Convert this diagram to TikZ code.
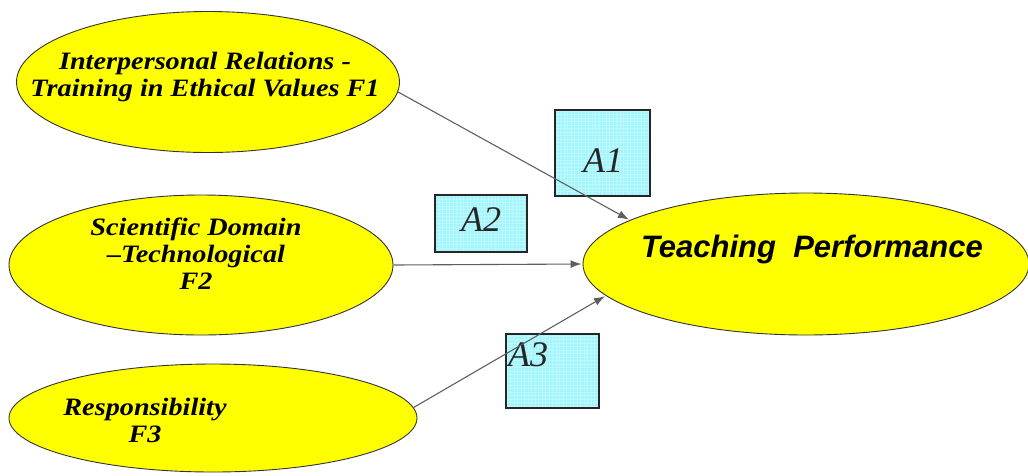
\documentclass[tikz,border=0pt]{standalone}
\usepackage{fontspec}
\setmainfont{Liberation Serif}
\setsansfont{Liberation Sans}
\newfontfamily\widefactor[FakeStretch=1.13]{Liberation Serif}
\usetikzlibrary{shapes.geometric,arrows.meta}
\definecolor{factorfill}{RGB}{255,255,0}
\definecolor{pathbox}{RGB}{160,246,252}
\definecolor{linkgray}{RGB}{95,95,95}
\tikzset{
  factor/.style={ellipse,draw=black!80,line width=0.9pt,fill=factorfill,inner sep=0pt},
  factortext/.style={font=\widefactor\fontsize{25}{27}\selectfont\bfseries\itshape,align=center,inner sep=0pt},
  coefbox/.style={rectangle,draw=black!85,line width=1.2pt,fill=pathbox,inner sep=0pt,
    path picture={\draw[white,opacity=0.3,line width=0.4pt]
      (path picture bounding box.south west) grid[step=3.5pt] (path picture bounding box.north east);}},
  coeftext/.style={font=\fontsize{36}{36}\selectfont\itshape,inner sep=0pt,text=black!85},
  link/.style={draw=linkgray,line width=1.1pt,-{Latex[length=11pt,width=8pt]},shorten >=1pt}
}
\begin{document}
\begin{tikzpicture}[x=1pt,y=-1pt]
\useasboundingbox (0,0) rectangle (1028,475);
% latent factors
\node[factor,minimum width=383pt,minimum height=141pt] (f1) at (208,82) {};
\node[factor,minimum width=384pt,minimum height=140pt] (f2) at (201,265) {};
\node[factor,minimum width=408pt,minimum height=108pt] (f3) at (213,418) {};
\node[factor,minimum width=446pt,minimum height=142pt] (tp) at (806,264) {};
\node[factortext] (f1t) at (205,77) {Interpersonal Relations -\\Training in Ethical Values F1};
\node[factortext] (f2t) at (196,254) {Scientific Domain\\–Technological\\F2};
\node[factortext] (f3t) at (145,420) {Responsibility\\F3};
\node[font=\fontsize{31}{31}\sffamily\bfseries\itshape,inner sep=0pt] (tpt) at (812,249) {Teaching\ \ Performance};
% path coefficient boxes
\node[coefbox,minimum width=95pt,minimum height=86pt] (a1) at (602.5,153) {};
\node[coefbox,minimum width=92pt,minimum height=57pt] (a2) at (481,223.5) {};
\node[coefbox,minimum width=93pt,minimum height=74pt] (a3) at (552.5,371) {};
\node[coeftext] (a1t) at (603,161) {A1};
\node[coeftext] (a2t) at (481,220) {A2};
\node[coeftext] (a3t) at (528,355) {A3};
% paths
\draw[link] (f1.-3) -- (tp.166);
\draw[link] (f2.east) -- (tp.west);
\draw[link] (f3.3) -- (tp.-171);
\end{tikzpicture}
\end{document}
